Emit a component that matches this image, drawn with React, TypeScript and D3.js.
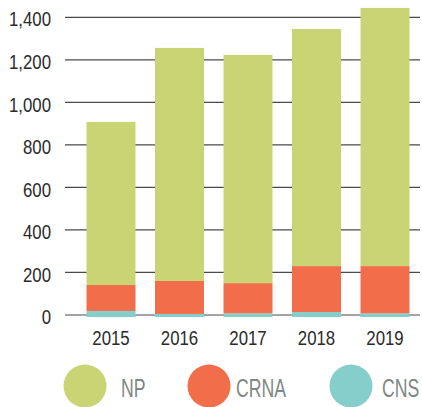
import React from "react";
import * as d3 from "d3";

const years = ["2015", "2016", "2017", "2018", "2019"];
const cnsValues = [19, 5, 8, 14, 8];
const crnaValues = [122, 155, 142, 216, 222];
const npValues = [767, 1096, 1073, 1115, 1214];
const yTicks = [0, 200, 400, 600, 800, 1000, 1200, 1400];
const seriesKeys = ["CNS", "CRNA", "NP"];
const legendOrder = ["NP", "CRNA", "CNS"];

const W = 422;
const H = 407;
const colors: Record<string, string> = {
  NP: "#c9d574",
  CRNA: "#f26e4b",
  CNS: "#86cecb",
};
// legend layout (positions only)
const legendCx = [85, 209, 351];
const legendTx = [121, 236, 382];

const FONT = "'Liberation Sans', Arial, sans-serif";
const TICK_SX = 0.8;
const LEG_SX = 0.68;

export default function App() {
  const rows = years.map((y, i) => ({
    year: y,
    CNS: cnsValues[i],
    CRNA: crnaValues[i],
    NP: npValues[i],
  }));
  const stacked = d3.stack<any>().keys(seriesKeys)(rows);

  const x = d3
    .scaleBand<string>()
    .domain(years)
    .range([86.5, 409.5])
    .paddingInner(0.285)
    .paddingOuter(0);
  const y = d3.scaleLinear().domain([0, 1400]).range([315, 17.3]);
  const fmt = d3.format(",");

  return (
    <svg
      width={W}
      height={H}
      style={{ position: "absolute", left: 0, top: 0, background: "#fff" }}
    >
      {yTicks.map((t) => (
        <g key={t}>
          <line
            x1={65}
            x2={420}
            y1={y(t)}
            y2={y(t)}
            stroke="#4a4a4a"
            strokeWidth={1.2}
          />
          <text
            transform={`translate(51,${y(t) + 2}) scale(${TICK_SX},1)`}
            textAnchor="end"
            dominantBaseline="central"
            fontFamily={FONT}
            fontSize={21}
            fill="#2b2b2b"
          >
            {fmt(t)}
          </text>
        </g>
      ))}
      {stacked.map((layer) => (
        <g key={layer.key} fill={colors[layer.key]}>
          {layer.map((d, i) => {
            const y0 = d[0] === 0 ? y(0) + 2 : y(d[0]);
            const y1 = y(d[1]);
            return (
              <rect
                key={i}
                x={x(years[i])}
                width={x.bandwidth()}
                y={y1}
                height={y0 - y1}
              />
            );
          })}
        </g>
      ))}
      {years.map((yr) => (
        <text
          key={yr}
          transform={`translate(${(x(yr) as number) + x.bandwidth() / 2},345) scale(${TICK_SX},1)`}
          textAnchor="middle"
          fontFamily={FONT}
          fontSize={21}
          fill="#2b2b2b"
        >
          {yr}
        </text>
      ))}
      {legendOrder.map((k, i) => (
        <g key={k}>
          <circle cx={legendCx[i]} cy={386} r={21.5} fill={colors[k]} />
          <text
            transform={`translate(${legendTx[i]},397.3) scale(${LEG_SX},1)`}
            fontFamily={FONT}
            fontSize={26}
            fill="#7e8884"
          >
            {k}
          </text>
        </g>
      ))}
    </svg>
  );
}
